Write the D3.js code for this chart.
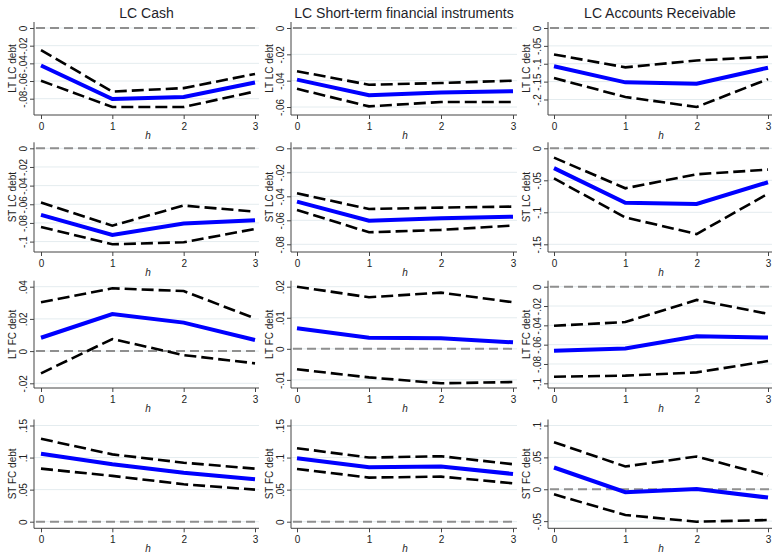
<!DOCTYPE html>
<html><head><meta charset="utf-8">
<script src="https://cdn.jsdelivr.net/npm/d3@7"></script>
<style>body{margin:0;background:#fff} svg{display:block;font-family:"Liberation Sans",Arial,sans-serif}</style>
</head><body><svg id="c" width="772" height="554"></svg>
<script>
// ---------- data ----------
const horizons = [0, 1, 2, 3];
const columnTitles = ["LC Cash", "LC Short-term financial instruments", "LC Accounts Receivable"];
const rowTitles = ["LT LC debt", "ST LC debt", "LT FC debt", "ST FC debt"];

// Row 1: LT LC debt (columns: Cash, ST fin. instruments, Accounts receivable)
const ltlcEstimate = [[-0.0425, -0.0804, -0.078, -0.0616], [-0.0392, -0.051, -0.049, -0.048], [-0.107, -0.152, -0.156, -0.111]];
const ltlcUpper    = [[-0.025, -0.072, -0.068, -0.052], [-0.0328, -0.0431, -0.0418, -0.040], [-0.074, -0.110, -0.091, -0.0805]];
const ltlcLower    = [[-0.0597, -0.0894, -0.0894, -0.0718], [-0.0462, -0.0595, -0.0562, -0.0562], [-0.140, -0.193, -0.221, -0.143]];
const ltlcTicks    = [[0, -0.02, -0.04, -0.06, -0.08], [0, -0.02, -0.04, -0.06], [0, -0.05, -0.1, -0.15, -0.2]];

// Row 2: ST LC debt
const stlcEstimate = [[-0.0714, -0.0929, -0.0807, -0.0771], [-0.0444, -0.0603, -0.0583, -0.057], [-0.031, -0.085, -0.087, -0.053]];
const stlcUpper    = [[-0.0582, -0.0829, -0.0614, -0.0679], [-0.0375, -0.0506, -0.0494, -0.0486], [-0.0146, -0.0625, -0.0406, -0.0333]];
const stlcLower    = [[-0.0843, -0.1029, -0.1007, -0.0864], [-0.0514, -0.070, -0.068, -0.0644], [-0.047, -0.108, -0.134, -0.071]];
const stlcTicks    = [[0, -0.02, -0.04, -0.06, -0.08, -0.1], [0, -0.02, -0.04, -0.06, -0.08], [0, -0.05, -0.1, -0.15]];

// Row 3: LT FC debt
const ltfcEstimate = [[0.0083, 0.023, 0.0177, 0.0069], [0.0066, 0.0036, 0.0034, 0.0021], [-0.0664, -0.064, -0.0514, -0.0527]];
const ltfcUpper    = [[0.0303, 0.039, 0.0373, 0.0203], [0.020, 0.0166, 0.0181, 0.015], [-0.0404, -0.0366, -0.0137, -0.0281]];
const ltfcLower    = [[-0.0138, 0.0075, -0.0025, -0.0076], [-0.0066, -0.0092, -0.0111, -0.0107], [-0.0932, -0.0921, -0.0887, -0.077]];
const ltfcTicks    = [[0.04, 0.02, 0, -0.02], [0.02, 0.01, 0, -0.01], [0, -0.02, -0.04, -0.06, -0.08, -0.1]];

// Row 4: ST FC debt
const stfcEstimate = [[0.106, 0.0895, 0.0765, 0.0662], [0.099, 0.0849, 0.0859, 0.0745], [0.0341, -0.0047, 0.0005, -0.0131]];
const stfcUpper    = [[0.1293, 0.105, 0.092, 0.0827], [0.1146, 0.100, 0.1021, 0.0896], [0.0738, 0.0357, 0.0514, 0.0215]];
const stfcLower    = [[0.0827, 0.0714, 0.0584, 0.050], [0.0823, 0.0688, 0.0703, 0.0599], [-0.0079, -0.0404, -0.0509, -0.0483]];
const stfcTicks    = [[0.15, 0.1, 0.05, 0], [0.15, 0.1, 0.05, 0], [0.1, 0.05, 0, -0.05]];

const rows = [
  {est: ltlcEstimate, up: ltlcUpper, lo: ltlcLower, ticks: ltlcTicks},
  {est: stlcEstimate, up: stlcUpper, lo: stlcLower, ticks: stlcTicks},
  {est: ltfcEstimate, up: ltfcUpper, lo: ltfcLower, ticks: ltfcTicks},
  {est: stfcEstimate, up: stfcUpper, lo: stfcLower, ticks: stfcTicks}
];

// ---------- layout ----------
const colLeft = [34, 291, 548];
const colX0 = [41, 297, 554];
const colX3 = [255, 513, 768];
const rowTop = [28, 148.3, 286.7, 425.5];
const rowBottom = [107, 244.3, 383.3, 521.7];
const rowAxis = [115, 252, 388, 528.3];

const fmt = d => d === 0 ? "0" : String(+d.toFixed(4)).replace("0.", ".");

const svg = d3.select("#c");

rows.forEach((row, r) => {
  for (let c = 0; c < 3; c++) {
    const up = row.up[c], est = row.est[c], lo = row.lo[c], ticks = row.ticks[c];
    const x = d3.scaleLinear().domain([0, 3]).range([colX0[c], colX3[c]]);
    const y = d3.scaleLinear().domain(d3.extent([...up, ...est, ...lo, ...ticks])).range([rowBottom[r], rowTop[r]]);
    const left = colLeft[c], right = colX3[c] + 4, axisY = rowAxis[r], topY = rowTop[r] - 6;
    const g = svg.append("g");

    // gridlines
    g.append("g").selectAll("line").data(ticks).join("line")
      .attr("x1", left).attr("x2", right)
      .attr("y1", d => y(d)).attr("y2", d => y(d))
      .attr("stroke", "#e4ecef").attr("stroke-width", 1);

    // zero reference line
    g.append("line")
      .attr("x1", left + 2).attr("x2", right)
      .attr("y1", y(0)).attr("y2", y(0))
      .attr("stroke", "#8f8f8f").attr("stroke-width", 2)
      .attr("stroke-dasharray", "9,5");

    // y axis
    const ya = g.append("g").attr("transform", `translate(${left},0)`)
      .call(d3.axisLeft(y).tickValues(ticks).tickSize(4).tickFormat(fmt));
    ya.select(".domain").remove();
    ya.selectAll(".tick line").attr("stroke", "#444");
    ya.selectAll(".tick text")
      .attr("x", 0).attr("y", -7.5).attr("dy", 0)
      .attr("text-anchor", "middle")
      .attr("transform", "rotate(-90)")
      .attr("font-size", 10).attr("fill", "#222")
      .attr("font-family", "Liberation Sans, Arial, sans-serif");
    g.append("line").attr("x1", left).attr("x2", left).attr("y1", topY).attr("y2", axisY)
      .attr("stroke", "#444").attr("stroke-width", 1);

    // x axis
    const xa = g.append("g").attr("transform", `translate(0,${axisY})`)
      .call(d3.axisBottom(x).tickValues(horizons).tickSize(4).tickPadding(3.5).tickFormat(d3.format("d")));
    xa.select(".domain").remove();
    xa.selectAll(".tick line").attr("stroke", "#444");
    xa.selectAll(".tick text").attr("font-size", 10).attr("fill", "#222")
      .attr("font-family", "Liberation Sans, Arial, sans-serif");
    g.append("line").attr("x1", left).attr("x2", right).attr("y1", axisY).attr("y2", axisY)
      .attr("stroke", "#444").attr("stroke-width", 1);

    // x title
    g.append("text").attr("x", x(1.5)).attr("y", axisY + 24)
      .attr("text-anchor", "middle").attr("font-size", 10).attr("font-style", "italic")
      .attr("fill", "#222").text("h");

    // y title
    g.append("text")
      .attr("transform", `translate(${left - 18},${(topY + axisY) / 2}) rotate(-90)`)
      .attr("text-anchor", "middle").attr("font-size", 10).attr("fill", "#222")
      .text(rowTitles[r]);

    // series
    const line = d3.line().x((d, i) => x(horizons[i])).y(d => y(d));
    [up, lo].forEach(s => {
      g.append("path").attr("d", line(s)).attr("fill", "none")
        .attr("stroke", "#000").attr("stroke-width", 2.6)
        .attr("stroke-dasharray", "12,5");
    });
    g.append("path").attr("d", line(est)).attr("fill", "none")
      .attr("stroke", "#0000ff").attr("stroke-width", 4);

    // column titles
    if (r === 0) {
      svg.append("text").attr("x", (left + right) / 2).attr("y", 17.5)
        .attr("text-anchor", "middle").attr("font-size", 14).attr("fill", "#1e1e2a")
        .text(columnTitles[c]);
    }
  }
});
</script></body></html>
